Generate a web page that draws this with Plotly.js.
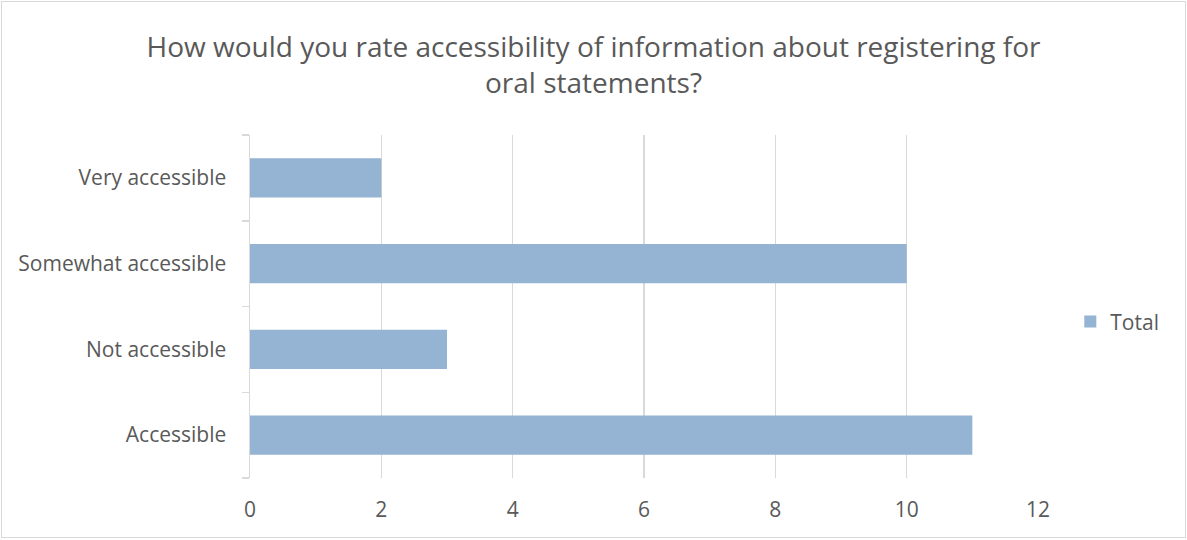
<!DOCTYPE html>
<html><head><meta charset="utf-8">
<script src="https://cdn.plot.ly/plotly-3.0.1.min.js"></script>
<style>body{margin:0;padding:0;background:#fff}#wrap{position:relative;width:1187px;height:540px}#chart{width:1187px;height:540px}#frame{position:absolute;left:1px;top:1px;width:1183px;height:535px;border:1px solid #d9d9d9;pointer-events:none}</style>
</head><body><div id="wrap"><div id="chart"></div><div id="frame"></div></div>
<script>
const categories = ["Accessible", "Not accessible", "Somewhat accessible", "Very accessible"];
const totals = [11, 3, 10, 2];
const xTicks = [0, 2, 4, 6, 8, 10, 12];
const seriesName = "Total";
const titleText = "How would you rate accessibility of information about registering for<br>oral statements?";

const font = "'Open Sans', sans-serif";
const data = [{
  type: "bar", orientation: "h", y: categories, x: totals, name: seriesName,
  marker: {color: "#95b3d2"}, showlegend: true, hoverinfo: "x+y"
}];
const layout = {
  width: 1187, height: 540,
  margin: {l: 250, r: 149, t: 135, b: 62},
  paper_bgcolor: "#fff", plot_bgcolor: "#fff",
  font: {family: font, color: "#595959"},
  title: {text: titleText, font: {size: 28, color: "#595959", family: font}, x: 0.5, xanchor: "center", y: 0.895, yanchor: "middle"},
  bargap: 0.54,
  xaxis: {range: [0, 12], tickvals: xTicks, ticktext: xTicks.map(String), showgrid: true, gridcolor: "#d9d9d9", gridwidth: 1.5,
    zeroline: false, showline: false, ticks: "", tickfont: {size: 21, color: "#595959"}, ticklabelstandoff: 17},
  yaxis: {type: "category", showgrid: false, showline: true, linecolor: "#d9d9d9", linewidth: 1.5,
    ticks: "outside", tickson: "boundaries", ticklen: 7, tickcolor: "#d9d9d9", tickwidth: 1.5,
    tickfont: {size: 21, color: "#595959"}, ticklabelstandoff: 18},
  legend: {x: 1.041, xanchor: "left", y: 0.455, yanchor: "middle", font: {size: 21, color: "#595959"}, itemwidth: 30}
};
Plotly.newPlot("chart", data, layout, {displayModeBar: false, staticPlot: true});
</script></body></html>
